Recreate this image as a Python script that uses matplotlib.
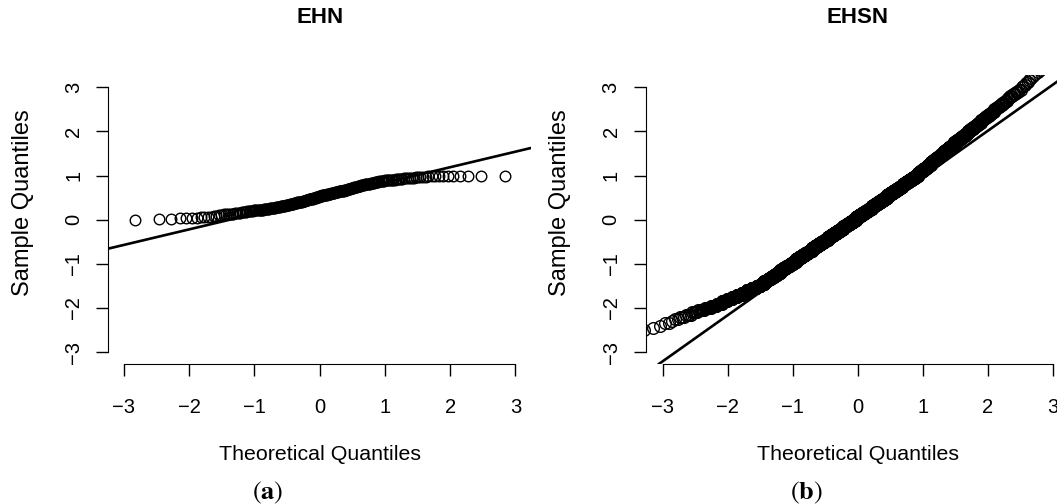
import statistics
import matplotlib.pyplot as plt

plt.rcParams['font.family'] = ['Liberation Sans', 'DejaVu Sans']

# EHN sample, sorted, written as value -> number of observations (n = 220)
ehn_values = [
    0.00, 0.01, 0.02, 0.03, 0.04, 0.05, 0.06, 0.07, 0.08, 0.09,
    0.10, 0.11, 0.12, 0.13, 0.14, 0.15, 0.16, 0.17, 0.18, 0.19,
    0.20, 0.21, 0.22, 0.23, 0.24, 0.25, 0.26, 0.27, 0.28, 0.29,
    0.30, 0.31, 0.32, 0.33, 0.34, 0.35, 0.36, 0.37, 0.38, 0.39,
    0.40, 0.41, 0.42, 0.43, 0.44, 0.45, 0.46, 0.47, 0.48, 0.49,
    0.50, 0.51, 0.52, 0.53, 0.54, 0.55, 0.56, 0.57, 0.58, 0.59,
    0.60, 0.61, 0.62, 0.63, 0.64, 0.65, 0.66, 0.67, 0.68, 0.69,
    0.70, 0.71, 0.72, 0.73, 0.74, 0.75, 0.76, 0.77, 0.78, 0.79,
    0.80, 0.81, 0.82, 0.83, 0.84, 0.85, 0.86, 0.87, 0.88, 0.89,
    0.90, 0.91, 0.92, 0.93, 0.94, 0.95, 0.96, 0.97, 0.98, 0.99,
    1.00,
]
ehn_counts = [
    1, 1, 1, 2, 2, 2, 1, 1, 1, 1,
    1, 1, 2, 2, 2, 2, 2, 2, 2, 3,
    2, 3, 3, 3, 3, 3, 3, 3, 3, 2,
    2, 2, 2, 3, 2, 2, 3, 2, 2, 3,
    2, 2, 2, 2, 2, 2, 2, 2, 2, 2,
    2, 2, 2, 1, 3, 2, 3, 2, 3, 2,
    3, 2, 3, 2, 3, 2, 2, 2, 2, 2,
    2, 2, 2, 2, 1, 1, 2, 2, 2, 2,
    2, 2, 2, 2, 2, 2, 2, 3, 2, 3,
    2, 3, 2, 3, 3, 3, 2, 3, 2, 4,
    5,
]
ehn_line = (0.485, 0.352)   # intercept, slope of the reference line

# EHSN sample, sorted, value -> number of observations, plus the top tail
ehsn_values = [
    -2.50, -2.45, -2.40, -2.35, -2.30, -2.25, -2.20, -2.15, -2.10, -2.05,
    -2.00, -1.95, -1.90, -1.85, -1.80, -1.75, -1.70, -1.65, -1.60, -1.55,
    -1.50, -1.45, -1.40, -1.35, -1.30, -1.25, -1.20, -1.15, -1.10, -1.05,
    -1.00, -0.95, -0.90, -0.85, -0.80, -0.75, -0.70, -0.65, -0.60, -0.55,
    -0.50, -0.45, -0.40, -0.35, -0.30, -0.25, -0.20, -0.15, -0.10, -0.05,
    0.00, 0.05, 0.10, 0.15, 0.20, 0.25, 0.30, 0.35, 0.40, 0.45,
    0.50, 0.55, 0.60, 0.65, 0.70, 0.75, 0.80, 0.85, 0.90, 0.95,
    1.00, 1.05, 1.10, 1.15, 1.20, 1.25, 1.30, 1.35, 1.40, 1.45,
    1.50, 1.55, 1.60, 1.65, 1.70, 1.75, 1.80, 1.85, 1.90, 1.95,
    2.00, 2.05, 2.10, 2.15, 2.20, 2.25, 2.30, 2.35, 2.40, 2.45,
    2.50, 2.55, 2.60, 2.65, 2.70, 2.75, 2.80, 2.85, 2.90, 2.95,
]
ehsn_counts = [
    2, 1, 1, 2, 1, 2, 3, 4, 5, 7,
    8, 9, 10, 12, 13, 15, 17, 20, 22, 25,
    23, 23, 23, 23, 24, 26, 28, 29, 31, 33,
    34, 36, 38, 40, 41, 43, 45, 46, 48, 49,
    51, 52, 53, 54, 55, 56, 57, 57, 58, 58,
    57, 57, 57, 57, 56, 56, 55, 55, 54, 53,
    52, 51, 50, 48, 47, 46, 44, 43, 41, 40,
    35, 31, 30, 28, 27, 26, 25, 24, 23, 22,
    21, 19, 18, 17, 17, 16, 15, 14, 13, 12,
    11, 11, 10, 9, 8, 8, 7, 7, 6, 6,
    5, 5, 4, 4, 4, 3, 3, 3, 3, 2,
]
ehsn_upper = [3.00, 3.03, 3.06, 3.09, 3.13, 3.16, 3.21, 3.25, 3.30,
              3.34, 3.40, 3.46, 3.52, 3.60, 3.70, 3.81, 3.96, 4.20]
ehsn_line = (-0.075, 1.045)

ticks = [-3, -2, -1, 0, 1, 2, 3]

W, H = 1057, 504


def fx(px):
    return px / W


def fy(py):
    return 1 - py / H


def expand(values, counts):
    out = []
    for v, c in zip(values, counts):
        out.extend([v] * c)
    return out


def normal_scores(n):
    # same plotting positions as R's qqnorm (ppoints, a = 0.5)
    nd = statistics.NormalDist()
    return [nd.inv_cdf((i + 0.5) / n) for i in range(n)]


def qq_panel(fig, left_px, right_px, sample, line, xlim, ms):
    top_px, bottom_px = 75.4, 364
    ax = fig.add_axes([fx(left_px), fy(bottom_px),
                       (right_px - left_px) / W, (bottom_px - top_px) / H])
    theo = normal_scores(len(sample))
    ax.plot(theo, sample, 'o', ms=ms, mfc='none', mec='black', mew=1.0)
    ax.axline((0, line[0]), slope=line[1], color='black', lw=1.9)
    ax.set_xlim(*xlim)
    ax.set_ylim(-3.27, 3.27)
    for side in ['top', 'right']:
        ax.spines[side].set_visible(False)
    ax.spines['left'].set_bounds(-3, 3)
    ax.spines['bottom'].set_bounds(-3, 3)
    ax.set_xticks(ticks)
    ax.set_yticks(ticks)
    ax.tick_params(direction='out', length=8.6, width=1, labelsize=14.5)
    ax.tick_params(axis='x', pad=16)
    ax.tick_params(axis='y', pad=9.5, labelrotation=90)
    for lab in ax.get_yticklabels():
        lab.set_va('center')
    return ax


fig = plt.figure(figsize=(W / 100, H / 100), dpi=100)

qq_panel(fig, 108.3, 531, expand(ehn_values, ehn_counts), ehn_line,
         (-3.24, 3.24), 7.6)
qq_panel(fig, 645.7, 1069.8, expand(ehsn_values, ehsn_counts) + ehsn_upper,
         ehsn_line, (-3.26, 3.26), 8.4)

for cx, ylab_x, title, cap_x, cap in [(320, 29, 'EHN', 268, 'a'),
                                      (858, 566, 'EHSN', 806, 'b')]:
    fig.text(fx(cx), fy(23), title, fontsize=16, fontweight='bold',
             ha='center', va='baseline')
    fig.text(fx(cx), fy(460), 'Theoretical Quantiles', fontsize=15.4,
             ha='center', va='baseline')
    fig.text(fx(ylab_x), fy(203), 'Sample Quantiles', fontsize=17,
             rotation=90, rotation_mode='anchor', ha='center', va='baseline')
    fig.text(fx(cap_x), fy(499), r'$(\mathbf{' + cap + '})$', fontsize=19,
             math_fontfamily='stix', ha='center', va='baseline')

fig.savefig('out.png', dpi=100)
